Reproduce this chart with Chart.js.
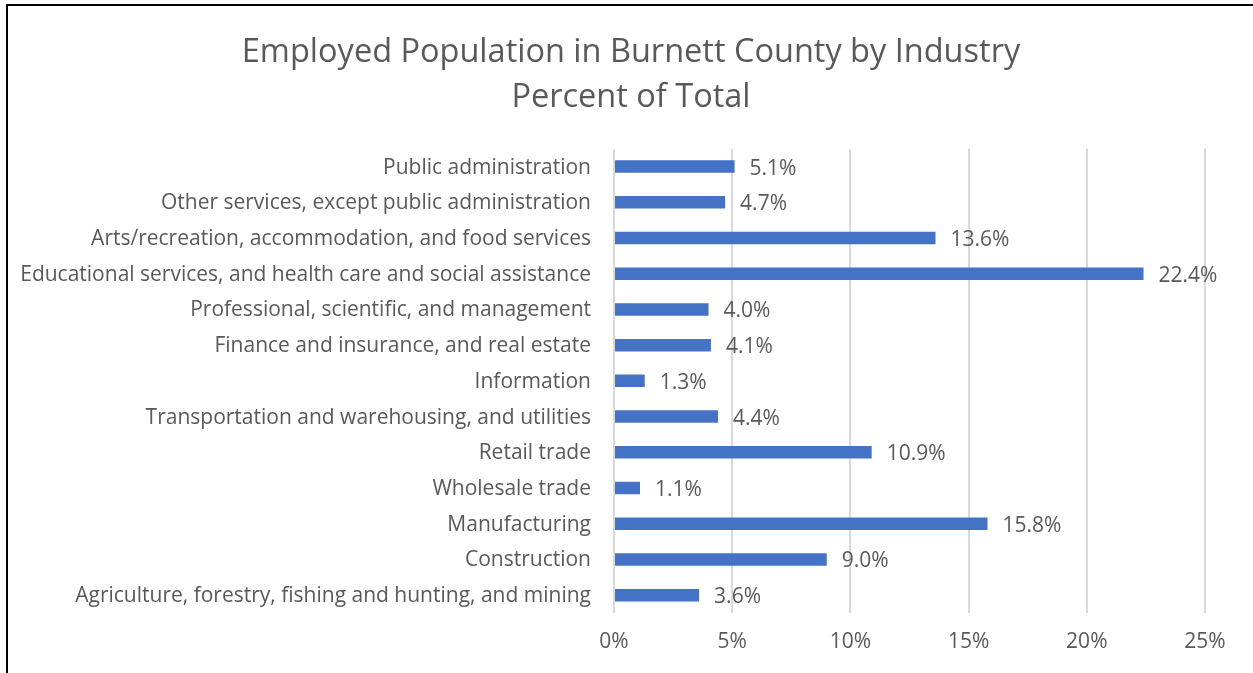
<!DOCTYPE html>
<html>
<head>
<meta charset="utf-8">
<script src="https://cdn.jsdelivr.net/npm/chart.js@4/dist/chart.umd.min.js"></script>
<style>
  html, body { margin: 0; padding: 0; background: #fff; }
  #wrap { position: absolute; left: 0; top: 0; width: 1253px; height: 673px; }
  #frame { position: absolute; left: 6px; top: 4px; right: -10px; bottom: -10px;
           border-left: 2px solid #000; border-top: 2px solid #000; pointer-events: none; }
</style>
</head>
<body>
<div id="wrap">
  <canvas id="industry-chart" width="1253" height="673"></canvas>
  <div id="frame"></div>
</div>
<script>
// Ngành nghề (từ trên xuống)
const industries = [
    'Public administration',
    'Other services, except public administration',
    'Arts/recreation, accommodation, and food services',
    'Educational services, and health care and social assistance',
    'Professional, scientific, and management',
    'Finance and insurance, and real estate',
    'Information',
    'Transportation and warehousing, and utilities',
    'Retail trade',
    'Wholesale trade',
    'Manufacturing',
    'Construction',
    'Agriculture, forestry, fishing and hunting, and mining'
];
const percentOfTotal = [5.1, 4.7, 13.6, 22.4, 4.0, 4.1, 1.3, 4.4, 10.9, 1.1, 15.8, 9.0, 3.6];
const xTicks = [0, 5, 10, 15, 20, 25];
const chartTitle = ['Employed Population in Burnett County by Industry', 'Percent of Total'];

const FONT = '"Open Sans", Lato, sans-serif';
const TEXT = '#595959';

// Plugin vẽ nhãn giá trị ở cuối mỗi thanh
const valueLabels = {
    id: 'valueLabels',
    afterDatasetsDraw(chart) {
        const ctx = chart.ctx;
        const meta = chart.getDatasetMeta(0);
        ctx.save();
        ctx.font = '21px ' + FONT;
        ctx.fillStyle = TEXT;
        ctx.textAlign = 'left';
        ctx.textBaseline = 'middle';
        meta.data.forEach((bar, i) => {
            ctx.fillText(percentOfTotal[i].toFixed(1) + '%', bar.x + 15, bar.y + 2);
        });
        ctx.restore();
    }
};

// Căn giữa tiêu đề theo khung của biểu đồ gốc
const titleCenter = {
    id: 'titleCenter',
    afterLayout(chart) {
        if (chart.titleBlock) {
            chart.titleBlock.left = 57;
            chart.titleBlock.right = chart.chartArea.right;
        }
    }
};

const ctx = document.getElementById('industry-chart').getContext('2d');
const industryChart = new Chart(ctx, {
    type: 'bar',
    data: {
        labels: industries,
        datasets: [{
            data: percentOfTotal,
            backgroundColor: '#4472C4',
            borderWidth: 0,
            barPercentage: 0.7,
            categoryPercentage: 0.5
        }]
    },
    plugins: [valueLabels, titleCenter],
    options: {
        indexAxis: 'y',
        responsive: false,
        animation: false,
        layout: {
            padding: { left: 10, right: 48, top: 0, bottom: 0 }
        },
        plugins: {
            legend: { display: false },
            tooltip: { enabled: false },
            title: {
                display: true,
                text: chartTitle,
                color: TEXT,
                font: { family: FONT, size: 32.5, weight: 'normal', lineHeight: 1.38 },
                padding: { top: 30, bottom: 29 }
            }
        },
        scales: {
            x: {
                min: 0,
                max: 25,
                afterBuildTicks: axis => { axis.ticks = xTicks.map(v => ({ value: v })); },
                afterFit: axis => { axis.height = 60; },
                border: { display: false },
                grid: { color: '#d9d9d9', lineWidth: 2, drawTicks: false },
                ticks: {
                    color: TEXT,
                    padding: 16,
                    font: { family: FONT, size: 21 },
                    callback: v => v + '%'
                }
            },
            y: {
                afterFit: axis => { axis.width = 604; },
                border: { display: false },
                grid: { display: false, drawTicks: false },
                ticks: {
                    color: TEXT,
                    padding: 23,
                    labelOffset: 1,
                    font: { family: FONT, size: 21 },
                    autoSkip: false
                }
            }
        }
    }
});
</script>
</body>
</html>
